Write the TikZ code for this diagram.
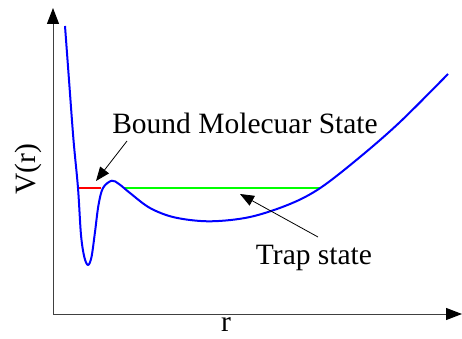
\documentclass[tikz,border=0pt]{standalone}
\usepackage{fontspec}
\newfontfamily\tnr{Liberation Serif}
\usetikzlibrary{arrows.meta}
\begin{document}
\begin{tikzpicture}[x=1pt,y=-1pt,
  axis/.style={draw=black!75, line width=1pt, -{Triangle[length=16pt,width=12pt,color=black]}},
  pot/.style={draw=blue, line width=2pt, line join=round},
  annot/.style={draw=black, line width=0.8pt, -{Triangle[length=14pt,width=11pt]}},
  lbl/.style={font=\tnr\fontsize{29.5}{34}\selectfont, inner sep=0pt, anchor=base}]
\useasboundingbox (0,0) rectangle (462,339);
% axes
\coordinate (O) at (53,314);
\coordinate (ytip) at (53,8);
\coordinate (xtip) at (462,314);
\draw[axis] (O) -- (ytip);
\draw[axis] (O) -- (xtip);
% levels
\coordinate (r1) at (77.7,187.7);
\coordinate (r2) at (100.7,187.7);
\coordinate (g1) at (124,187.7);
\coordinate (g2) at (320.7,187.7);
\draw[red, line width=2pt] (r1) -- (r2);
\draw[green, line width=2pt] (g1) -- (g2);
% potential
\draw[pot] plot[smooth, tension=0.55] coordinates {(65,26) (69,80) (73.5,140) (78,188) (81,235) (84.3,257) (88,265) (91.5,257) (95,232) (98.5,205) (103,188) (111.7,180.7) (119,184) (130,193) (150,208) (175,217.5) (210,221.3) (250,217) (290,204) (320.7,187.7) (360,157) (400,122) (448,74)};
% labels
\node[lbl] (bms) at (245,134) {Bound Molecuar State};
\node[lbl] (trap) at (314,264) {Trap state};
\node[lbl, rotate=90] (vr) at (35,169) {V(r)};
\node[lbl] (r) at (226,331.5) {r};
\coordinate (bmsfoot) at (127,141);
\coordinate (bmstip) at (96,181);
\coordinate (trapfoot) at (318,237);
\coordinate (traptip) at (240,194);
\draw[annot] (bmsfoot) -- (bmstip);
\draw[annot] (trapfoot) -- (traptip);
\end{tikzpicture}
\end{document}
